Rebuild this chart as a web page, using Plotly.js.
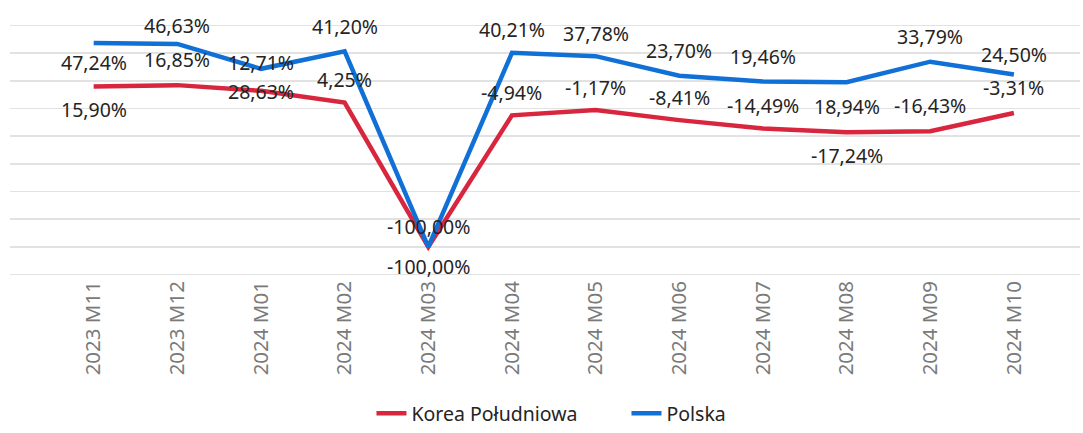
<!DOCTYPE html>
<html>
<head>
<meta charset="utf-8">
<script src="https://cdn.plot.ly/plotly-3.0.1.min.js"></script>
<style>html,body{margin:0;padding:0;background:#fff;}#chart{width:1083px;height:433px;}</style>
</head>
<body>
<div id="chart"></div>
<script>
const categories = ["2023 M11","2023 M12","2024 M01","2024 M02","2024 M03","2024 M04","2024 M05","2024 M06","2024 M07","2024 M08","2024 M09","2024 M10"];
const koreaName = "Korea Południowa";
const koreaValues = [15.90, 16.85, 12.71, 4.25, -100.00, -4.94, -1.17, -8.41, -14.49, -17.24, -16.43, -3.31];
const polskaName = "Polska";
const polskaValues = [47.24, 46.63, 28.63, 41.20, -100.00, 40.21, 37.78, 23.70, 19.46, 18.94, 33.79, 24.50];

// label placement: positive = above point, negative = below point (in units of the base offset)
const koreaLabelSide = [-1, 1.1, 1.25, 1, -0.85, 1, 1, 1, 1, -1, 1.1, 1.1];
const polskaLabelSide = [-0.85, 0.8, -1, 1.1, 0.9, 1, 1, 1.1, 1.1, -1.05, 1.1, 0.85];

const RED = "#D9263F";
const BLUE = "#1170D6";
const FONT = "'Noto Sans', 'Open Sans', sans-serif";
const LABEL_OFFSET = 23;

function fmt(v){ return v.toFixed(2).replace('.', ',') + '%'; }

const traces = [
  {x: categories, y: koreaValues, name: koreaName, type: 'scatter', mode: 'lines',
   line: {color: RED, width: 4.5}, hoverinfo: 'skip'},
  {x: categories, y: polskaValues, name: polskaName, type: 'scatter', mode: 'lines',
   line: {color: BLUE, width: 4.5}, hoverinfo: 'skip'}
];

const annotations = [];
function addLabels(vals, sides){
  vals.forEach((v, i) => {
    annotations.push({
      x: categories[i], y: v, xref: 'x', yref: 'y', text: fmt(v), showarrow: false,
      yshift: sides[i] * LABEL_OFFSET, font: {family: FONT, size: 19.5, color: '#252423'}
    });
  });
}
addLabels(koreaValues, koreaLabelSide);
addLabels(polskaValues, polskaLabelSide);

const layout = {
  width: 1083, height: 433,
  margin: {l: 10, r: 3, t: 24, b: 157, autoexpand: false},
  paper_bgcolor: '#fff', plot_bgcolor: '#fff',
  font: {family: FONT, size: 19, color: '#252423'},
  showlegend: true,
  legend: {orientation: 'h', xref: 'container', yref: 'container', x: 0.343, xanchor: 'left',
           y: -0.014, yanchor: 'bottom', entrywidth: 210, entrywidthmode: 'pixels',
           font: {family: FONT, size: 19.5, color: '#252423'}, traceorder: 'normal'},
  xaxis: {type: 'category', range: [-1.0, 11.79], showgrid: false, zeroline: false, showline: false,
          automargin: false, ticks: '', tickangle: -90, tickfont: {family: FONT, size: 20.5, color: '#7a7a7a'}},
  yaxis: {range: [-121, 61], dtick: 20, tick0: 0, showgrid: true, gridcolor: '#e2e2e2', gridwidth: 1.5,
          automargin: false, zeroline: false, showticklabels: false, ticks: '', showline: false},
  annotations: annotations
};

Plotly.newPlot('chart', traces, layout, {displayModeBar: false, staticPlot: true});
</script>
</body>
</html>
